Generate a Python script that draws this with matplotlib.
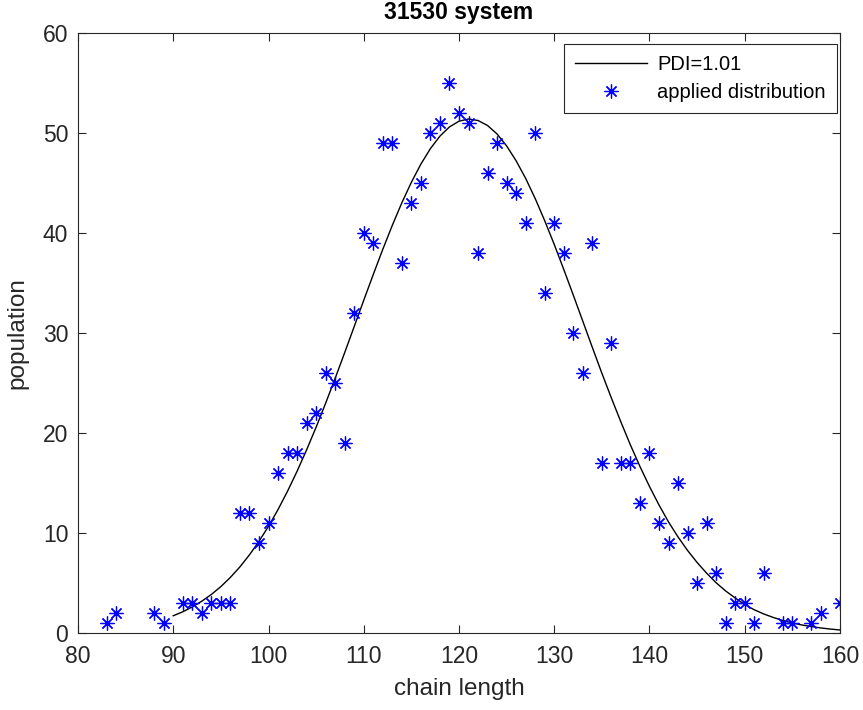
import numpy as np
import matplotlib
matplotlib.use("Agg")
import matplotlib.pyplot as plt

plt.rcParams['font.family'] = ['Liberation Sans', 'DejaVu Sans']

# measured chain-length population (asterisks)
chain_len = [83, 84, 88, 89, 91, 92, 93, 94, 95, 96, 97, 98, 99, 100, 101, 102,
             103, 104, 105, 106, 107, 108, 109, 110, 111, 112, 113, 114, 115, 116,
             117, 118, 119, 120, 121, 122, 123, 124, 125, 126, 127, 128, 129, 130,
             131, 132, 133, 134, 135, 136, 137, 138, 139, 140, 141, 142, 143, 144,
             145, 146, 147, 148, 149, 150, 151, 152, 154, 155, 157, 158, 160]
population = [1, 2, 2, 1, 3, 3, 2, 3, 3, 3, 12, 12, 9, 11, 16, 18,
              18, 21, 22, 26, 25, 19, 32, 40, 39, 49, 49, 37, 43, 45,
              50, 51, 55, 52, 51, 38, 46, 49, 45, 44, 41, 50, 34, 41,
              38, 30, 26, 39, 17, 29, 17, 17, 13, 18, 11, 9, 15, 10,
              5, 11, 6, 1, 3, 3, 1, 6, 1, 1, 1, 2, 3]

# PDI=1.01 curve, values at integer chain lengths 90..160
curve_x = list(range(90, 161))
curve_y = [1.72, 2.12, 2.6, 3.18, 3.85, 4.64, 5.56, 6.61, 7.81, 9.16,
           10.67, 12.34, 14.18, 16.17, 18.31, 20.58, 22.98, 25.47, 28.04, 30.65,
           33.27, 35.85, 38.37, 40.77, 43.02, 45.07, 46.89, 48.44, 49.69, 50.61,
           51.18, 51.4, 51.25, 50.75, 49.9, 48.71, 47.22, 45.46, 43.45, 41.23,
           38.86, 36.36, 33.79, 31.18, 28.56, 25.98, 23.5, 21.1, 18.8, 16.65,
           14.65, 12.8, 11.1, 9.6, 8.25, 7.05, 5.98, 5.02, 4.2, 3.5,
           2.85, 2.32, 1.9, 1.55, 1.25, 1.0, 0.8, 0.64, 0.5, 0.39, 0.3]

fig = plt.figure(figsize=(8.63, 7.10), dpi=100)
ax = fig.add_axes([0.0904, 0.1085, 0.8829, 0.845])

ax.plot(curve_x, curve_y, color='black', linewidth=1.0, label='PDI=1.01')
ax.plot(chain_len, population, linestyle='none', marker=(8, 2, 0), markersize=10,
        markeredgewidth=0.9, color='blue', label='applied distribution')

ax.set_xlim(80, 160)
ax.set_ylim(0, 60)
ax.set_xticks(np.arange(80, 161, 10))
ax.set_yticks(np.arange(0, 61, 10))
ax.tick_params(direction='in', top=True, right=True, length=6, width=0.8,
               labelsize=16.5, colors='#262626')
ax.tick_params(axis='x', pad=9)
ax.tick_params(axis='y', pad=7)
for s in ax.spines.values():
    s.set_color('#262626')
    s.set_linewidth(0.8)

ax.set_xlabel('chain length', fontsize=17.5, color='#262626', labelpad=7)
ax.set_ylabel('population', fontsize=17.5, color='#262626', labelpad=10)
ax.set_title('31530 system', fontsize=16.5, fontweight='bold', pad=10)

leg = ax.legend(loc='upper right', bbox_to_anchor=(0.996, 0.982), fontsize=14.5,
                fancybox=False, framealpha=1, edgecolor='#262626',
                handlelength=3.6, borderaxespad=0, borderpad=0.55,
                labelspacing=0.45, handletextpad=0.5)
leg.get_frame().set_linewidth(0.8)

fig.savefig('out.png', dpi=100)
